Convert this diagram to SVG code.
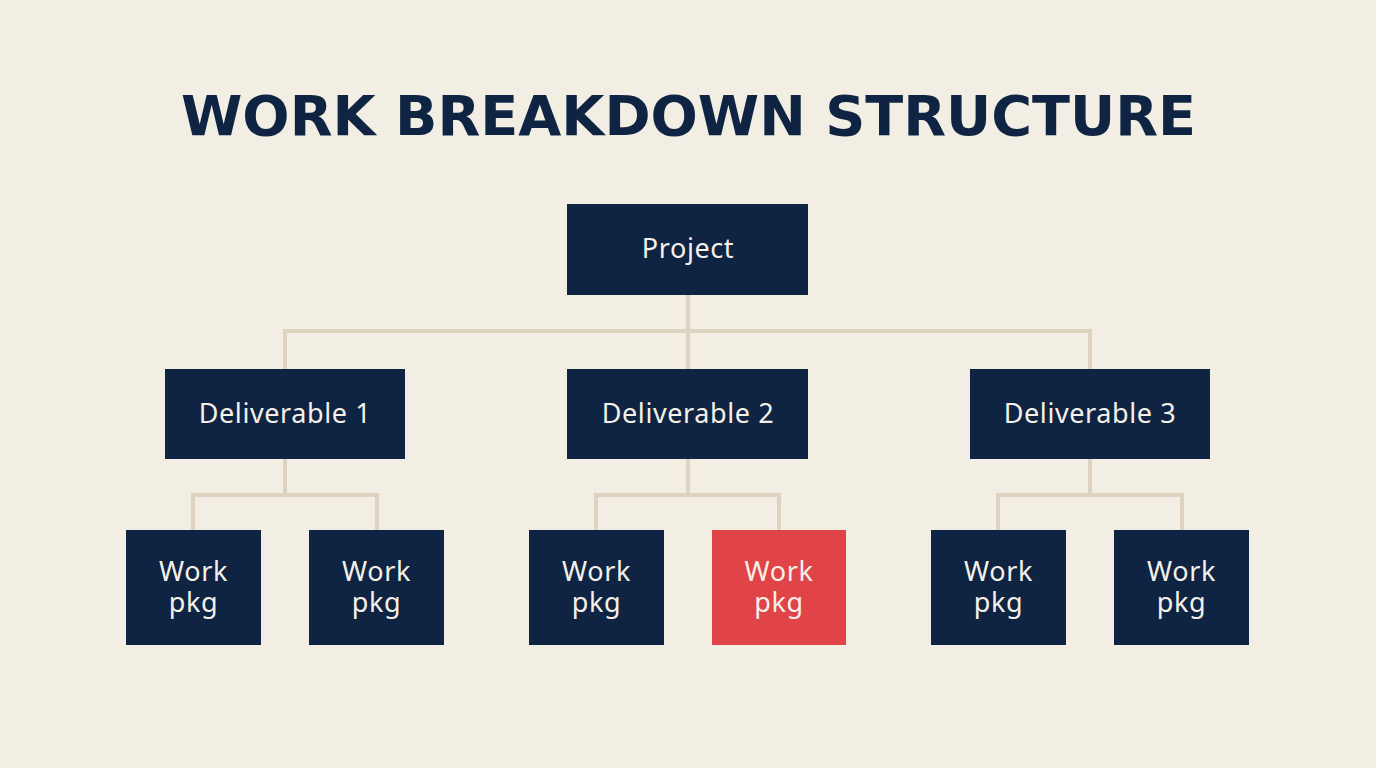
<svg xmlns="http://www.w3.org/2000/svg" width="1376" height="768" viewBox="0 0 1376 768">
<style>
.bg{fill:#F2EEE3}
.title{font-family:"DejaVu Sans","Liberation Sans",sans-serif;font-weight:bold;font-size:55px;fill:#0E2442}
.navy{fill:#0E2442}
.red{fill:#E04448}
.lbl{font-family:"Noto Sans","Open Sans",sans-serif;font-size:27px;letter-spacing:0.6px;fill:#F5F0E8;text-anchor:middle}
.wp{font-family:"Noto Sans","Open Sans",sans-serif;font-size:27px;letter-spacing:0.6px;fill:#F5F0E8;text-anchor:middle}
.conn{fill:none;stroke:#DDD3C0;stroke-width:4}
</style>
<rect class="bg" width="1376" height="768"/>
<text class="title" x="181" y="135" textLength="1015" lengthAdjust="spacingAndGlyphs">WORK BREAKDOWN STRUCTURE</text>
<g id="connectors">
<path class="conn" d="M688 295V331M285 369V331H1090V369M688 331V369"/>
<path class="conn" d="M285 459V495M193 530V495H377V530"/>
<path class="conn" d="M688 459V495M596 530V495H779V530"/>
<path class="conn" d="M1090 459V495M998 530V495H1182V530"/>
</g>
<g id="project"><rect class="navy" x="567" y="204" width="241" height="91"/><text class="lbl" x="688" y="258">Project</text></g>
<g id="deliverable1"><rect class="navy" x="165" y="369" width="240" height="90"/><text class="lbl" x="285" y="423">Deliverable 1</text></g>
<g id="deliverable2"><rect class="navy" x="567" y="369" width="241" height="90"/><text class="lbl" x="688" y="423">Deliverable 2</text></g>
<g id="deliverable3"><rect class="navy" x="970" y="369" width="240" height="90"/><text class="lbl" x="1090" y="423">Deliverable 3</text></g>
<g id="wp1"><rect class="navy" x="126" y="530" width="135" height="115"/><text class="wp" x="193.5" y="581">Work</text><text class="wp" x="193.5" y="612">pkg</text></g>
<g id="wp2"><rect class="navy" x="309" y="530" width="135" height="115"/><text class="wp" x="376.5" y="581">Work</text><text class="wp" x="376.5" y="612">pkg</text></g>
<g id="wp3"><rect class="navy" x="529" y="530" width="135" height="115"/><text class="wp" x="596.5" y="581">Work</text><text class="wp" x="596.5" y="612">pkg</text></g>
<g id="wp4"><rect class="red" x="712" y="530" width="134" height="115"/><text class="wp" x="779" y="581">Work</text><text class="wp" x="779" y="612">pkg</text></g>
<g id="wp5"><rect class="navy" x="931" y="530" width="135" height="115"/><text class="wp" x="998.5" y="581">Work</text><text class="wp" x="998.5" y="612">pkg</text></g>
<g id="wp6"><rect class="navy" x="1114" y="530" width="135" height="115"/><text class="wp" x="1181.5" y="581">Work</text><text class="wp" x="1181.5" y="612">pkg</text></g>
</svg>
